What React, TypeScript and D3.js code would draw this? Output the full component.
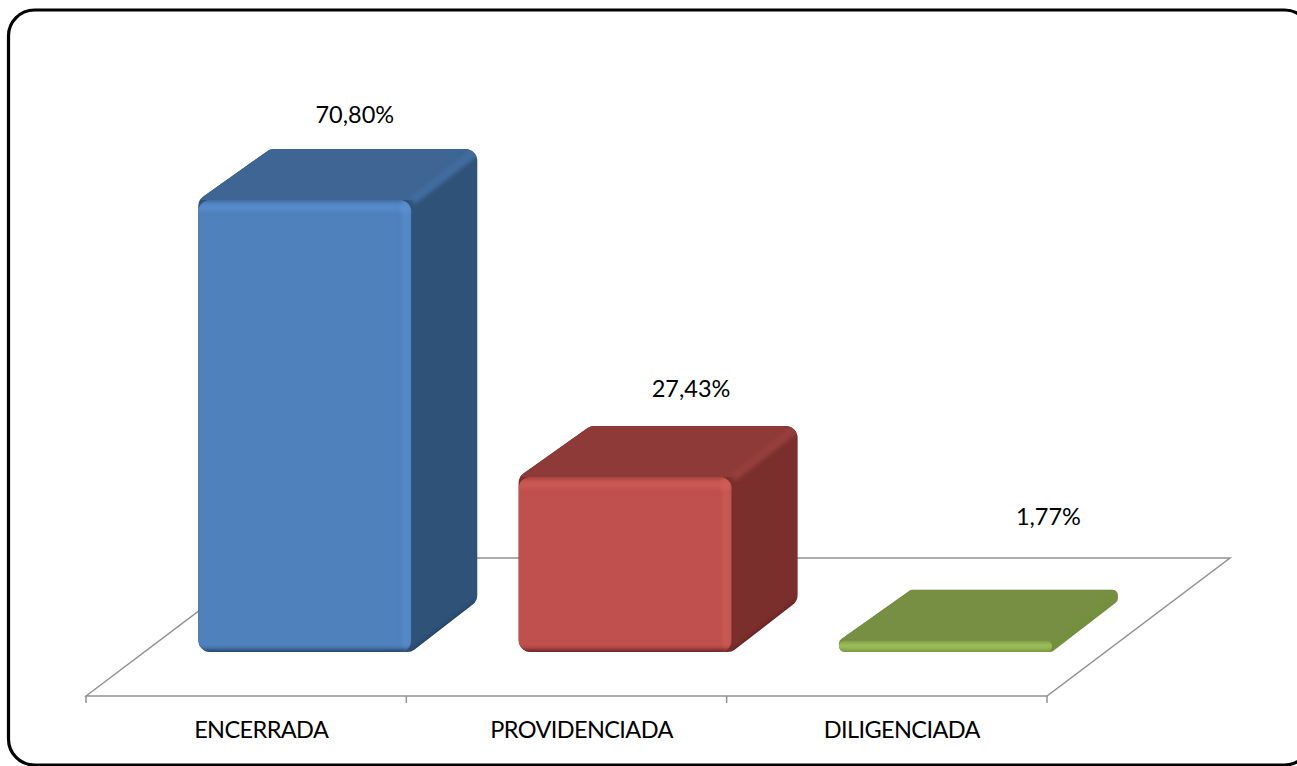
import React, { useEffect, useRef } from 'react';
import * as d3 from 'd3';

const categories = ['ENCERRADA', 'PROVIDENCIADA', 'DILIGENCIADA'];
const values = [70.8, 27.43, 1.77];

const fronts = ['#4f81bd', '#c0504d', '#8fae4e'];
const tops = ['#3e6593', '#8e3a38', '#778f42'];
const sides = ['#2f5278', '#7a2f2d', '#74903f'];
const edges = ['#436da0', '#97403d', '#7f9947'];
const lights = ['#5a8fd0', '#d05d59', '#a3c862'];
const darks = ['#1f3a5c', '#5c1f1e', '#5f7a32'];

// how far each value label sits from the back top edge of its bar
const labelDx = [50, 66, 103];
const labelDy = [26, 29, 65];

const WIDTH = 1297;
const HEIGHT = 766;
const FONT = 'Lato, "Open Sans", sans-serif';

// oblique depth of the 3d boxes, and of the floor
const depthX = 66;
const depthY = 51;
const axisY = 696;
const baseY = 652;
const floorBackY = 558;
const floorDx = 183;
const floorShift = (axisY - baseY) * (floorDx / (axisY - floorBackY));

const roundedPoly = (pts: number[][], r: number) => {
  const p = d3.path();
  const n = pts.length;
  const mid = [(pts[0][0] + pts[n - 1][0]) / 2, (pts[0][1] + pts[n - 1][1]) / 2];
  p.moveTo(mid[0], mid[1]);
  pts.forEach((pt, i) => {
    const next = pts[(i + 1) % n];
    p.arcTo(pt[0], pt[1], next[0], next[1], r);
  });
  p.closePath();
  return p.toString();
};

const App = () => {
  const svgRef = useRef<SVGSVGElement>(null);

  useEffect(() => {
    const svg = d3.select(svgRef.current);
    svg.selectAll('*').remove();

    const x = d3.scaleBand<string>()
      .domain(categories)
      .range([86, 1047])
      .paddingInner(1 / 3)
      .paddingOuter(1 / 6);

    const y = d3.scaleLinear()
      .domain([0, 70.8])
      .range([baseY, 200]);

    const defs = svg.append('defs');
    const soft = defs.append('filter').attr('id', 'soft')
      .attr('filterUnits', 'userSpaceOnUse')
      .attr('x', 0).attr('y', 0).attr('width', WIDTH).attr('height', HEIGHT);
    soft.append('feGaussianBlur').attr('stdDeviation', 2);

    svg.append('rect')
      .attr('width', WIDTH).attr('height', HEIGHT).attr('fill', '#fff');

    // frame runs off the right edge of the picture
    svg.append('rect')
      .attr('x', 8.5).attr('y', 10)
      .attr('width', 1302).attr('height', 755)
      .attr('rx', 26).attr('ry', 26)
      .attr('fill', '#fff')
      .attr('stroke', '#000')
      .attr('stroke-width', 3.2);

    // floor
    const gridColor = '#929292';
    svg.append('path')
      .attr('d', d3.line()([
        [86, axisY],
        [86 + floorDx, floorBackY],
        [1047 + floorDx, floorBackY],
        [1047, axisY],
      ]) + 'Z')
      .attr('fill', 'none')
      .attr('stroke', gridColor)
      .attr('stroke-width', 1.5);

    const step = x.step();
    d3.range(categories.length + 1).forEach(i => {
      const tx = 86 + i * step;
      svg.append('line')
        .attr('x1', tx).attr('x2', tx)
        .attr('y1', axisY).attr('y2', axisY + 7)
        .attr('stroke', gridColor)
        .attr('stroke-width', 1.5);
    });

    categories.forEach((cat, i) => {
      const x0 = (x(cat) as number) + floorShift + 0.5;
      const x1 = x0 + x.bandwidth() - 0.5;
      const yT = y(values[i]);
      const yB = baseY;
      const h = yB - yT;
      const r = Math.min(12, h / 2);
      const tall = h > 30;

      const g = svg.append('g');
      const clipId = `clip-${i}`;
      const outline = roundedPoly([
        [x0, yB],
        [x0, yT],
        [x0 + depthX + 6, yT - depthY],
        [x1 + depthX, yT - depthY],
        [x1 + depthX, yB - depthY],
        [x1, yB],
      ], r);
      defs.append('clipPath').attr('id', clipId).append('path').attr('d', outline);

      g.append('path').attr('d', outline).attr('fill', sides[i]);

      const body = g.append('g').attr('clip-path', `url(#${clipId})`);

      // top face
      body.append('path')
        .attr('d', d3.line()([
          [x0, yT],
          [x0 + depthX + 6, yT - depthY],
          [x1 + depthX, yT - depthY],
          [x1, yT],
        ]) + 'Z')
        .attr('fill', tops[i]);

      if (tall) {
        // bevel on the edge between top and side faces
        body.append('line')
          .attr('x1', x1 + 1).attr('y1', yT + 1)
          .attr('x2', x1 + depthX + 1).attr('y2', yT - depthY + 1)
          .attr('stroke', edges[i])
          .attr('stroke-width', 8)
          .attr('filter', 'url(#soft)');

        // dark fade along the bottom of the side
        body.append('line')
          .attr('x1', x1).attr('y1', yB + 1)
          .attr('x2', x1 + depthX).attr('y2', yB - depthY + 1)
          .attr('stroke', darks[i])
          .attr('stroke-width', 3)
          .attr('filter', 'url(#soft)');
      }

      // front face
      const front = body.append('g');
      const frontId = `front-${i}`;
      defs.append('clipPath').attr('id', frontId).append('rect')
        .attr('x', x0).attr('y', yT)
        .attr('width', x1 - x0).attr('height', h)
        .attr('rx', r).attr('ry', r);
      front.attr('clip-path', `url(#${frontId})`);

      front.append('rect')
        .attr('x', x0).attr('y', yT)
        .attr('width', x1 - x0).attr('height', h)
        .attr('fill', fronts[i]);

      // the front starts soft against the top face
      front.append('rect')
        .attr('x', x0 - 4).attr('y', yT - 3)
        .attr('width', x1 - x0 + 8).attr('height', 4)
        .attr('fill', tops[i])
        .attr('filter', 'url(#soft)');

      // top and right bevels
      const bevel = tall ? 7 : h * 0.5;
      front.append('rect')
        .attr('x', x0 - 4).attr('y', tall ? yT + 4 : yT + h * 0.25)
        .attr('width', x1 - x0 + 8).attr('height', bevel)
        .attr('fill', lights[i])
        .attr('opacity', 0.7)
        .attr('filter', 'url(#soft)');

      if (tall) {
        front.append('rect')
          .attr('x', x1 - bevel - 2).attr('y', yT - 4)
          .attr('width', bevel).attr('height', h + 8)
          .attr('fill', lights[i])
          .attr('opacity', 0.7)
          .attr('filter', 'url(#soft)');

        front.append('circle')
          .attr('cx', x1 - 7).attr('cy', yT + 9)
          .attr('r', 4)
          .attr('fill', lights[i])
          .attr('filter', 'url(#soft)');
      }

      // dark lip at the foot
      front.append('rect')
        .attr('x', x0 - 4).attr('y', yB - (tall ? 2.5 : 1))
        .attr('width', x1 - x0 + 8).attr('height', tall ? 5 : 2)
        .attr('fill', darks[i])
        .attr('filter', 'url(#soft)');

      // value label
      svg.append('text')
        .attr('x', (x0 + x1) / 2 + labelDx[i])
        .attr('y', yT - depthY - labelDy[i])
        .attr('text-anchor', 'middle')
        .attr('font-family', FONT)
        .attr('font-size', 23.5)
        .attr('fill', '#000')
        .text(`${values[i].toFixed(2).replace('.', ',')}%`);

      // category label
      svg.append('text')
        .attr('x', 86 + (i + 0.5) * step + 15)
        .attr('y', 738)
        .attr('text-anchor', 'middle')
        .attr('font-family', FONT)
        .attr('font-size', 23.5)
        .attr('letter-spacing', -0.6)
        .attr('fill', '#000')
        .text(cat);
    });
  }, []);

  return (
    <svg
      ref={svgRef}
      width={WIDTH}
      height={HEIGHT}
      style={{ position: 'absolute', left: 0, top: 0, display: 'block' }}
    />
  );
};

export default App;
